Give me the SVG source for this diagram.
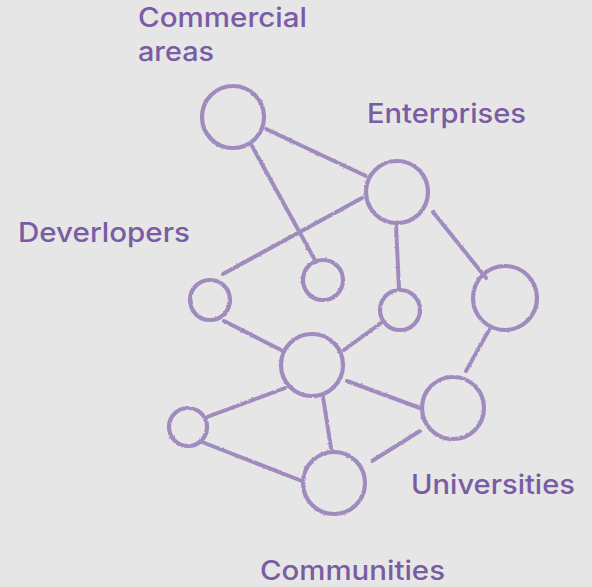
<svg xmlns="http://www.w3.org/2000/svg" width="592" height="587" viewBox="0 0 592 587">
<defs>
<filter id="sketch" x="-10%" y="-10%" width="120%" height="120%">
<feTurbulence type="fractalNoise" baseFrequency="0.35" numOctaves="2" seed="3" result="n"/>
<feDisplacementMap in="SourceGraphic" in2="n" scale="2.2" xChannelSelector="R" yChannelSelector="G"/>
</filter>
</defs>
<style>
.node circle{fill:none;stroke:#a08bbf;stroke-width:4.2}
#connectors line{stroke:#a08bbf;stroke-width:4;stroke-linecap:round}
text{font-family:Inter,"Open Sans","Liberation Sans",sans-serif;font-size:27px;fill:#7a5ca5;font-weight:500}
</style>
<rect width="592" height="587" fill="#e6e6e6"/>
<g filter="url(#sketch)">
<g id="connectors">
<line x1="266" y1="129" x2="366" y2="176"/>
<line x1="252" y1="146" x2="316" y2="262"/>
<line x1="362" y1="198" x2="223" y2="274"/>
<line x1="396" y1="225" x2="399" y2="289"/>
<line x1="433" y1="212" x2="486" y2="278"/>
<line x1="224" y1="321" x2="281" y2="350"/>
<line x1="381" y1="323" x2="344" y2="350"/>
<line x1="489" y1="330" x2="466" y2="371"/>
<line x1="347" y1="381" x2="420" y2="408"/>
<line x1="285" y1="388" x2="207" y2="417"/>
<line x1="323" y1="397" x2="331" y2="448"/>
<line x1="202" y1="442" x2="302" y2="481"/>
<line x1="420" y1="431" x2="372" y2="461"/>
</g>
<g id="n-commercial" class="node"><circle cx="233" cy="117" r="31"/></g>
<g id="n-enterprises" class="node"><circle cx="397" cy="192" r="31"/></g>
<g id="n-c" class="node"><circle cx="323" cy="280" r="20"/></g>
<g id="n-developers" class="node"><circle cx="210" cy="300" r="20"/></g>
<g id="n-e" class="node"><circle cx="400" cy="310" r="20"/></g>
<g id="n-f" class="node"><circle cx="505" cy="298" r="32"/></g>
<g id="n-g" class="node"><circle cx="312" cy="365" r="31"/></g>
<g id="n-universities" class="node"><circle cx="453" cy="408" r="31"/></g>
<g id="n-i" class="node"><circle cx="188" cy="427" r="19"/></g>
<g id="n-communities" class="node"><circle cx="334" cy="483" r="31"/></g>
</g>
<g id="labels">
<text x="138" y="27" textLength="169" lengthAdjust="spacingAndGlyphs">Commercial</text>
<text x="138" y="61" textLength="76" lengthAdjust="spacingAndGlyphs">areas</text>
<text x="367" y="123" textLength="159" lengthAdjust="spacingAndGlyphs">Enterprises</text>
<text x="18" y="242" textLength="172" lengthAdjust="spacingAndGlyphs">Deverlopers</text>
<text x="411" y="494" textLength="164" lengthAdjust="spacingAndGlyphs">Universities</text>
<text x="260" y="580" textLength="185" lengthAdjust="spacingAndGlyphs">Communities</text>
</g>
</svg>
